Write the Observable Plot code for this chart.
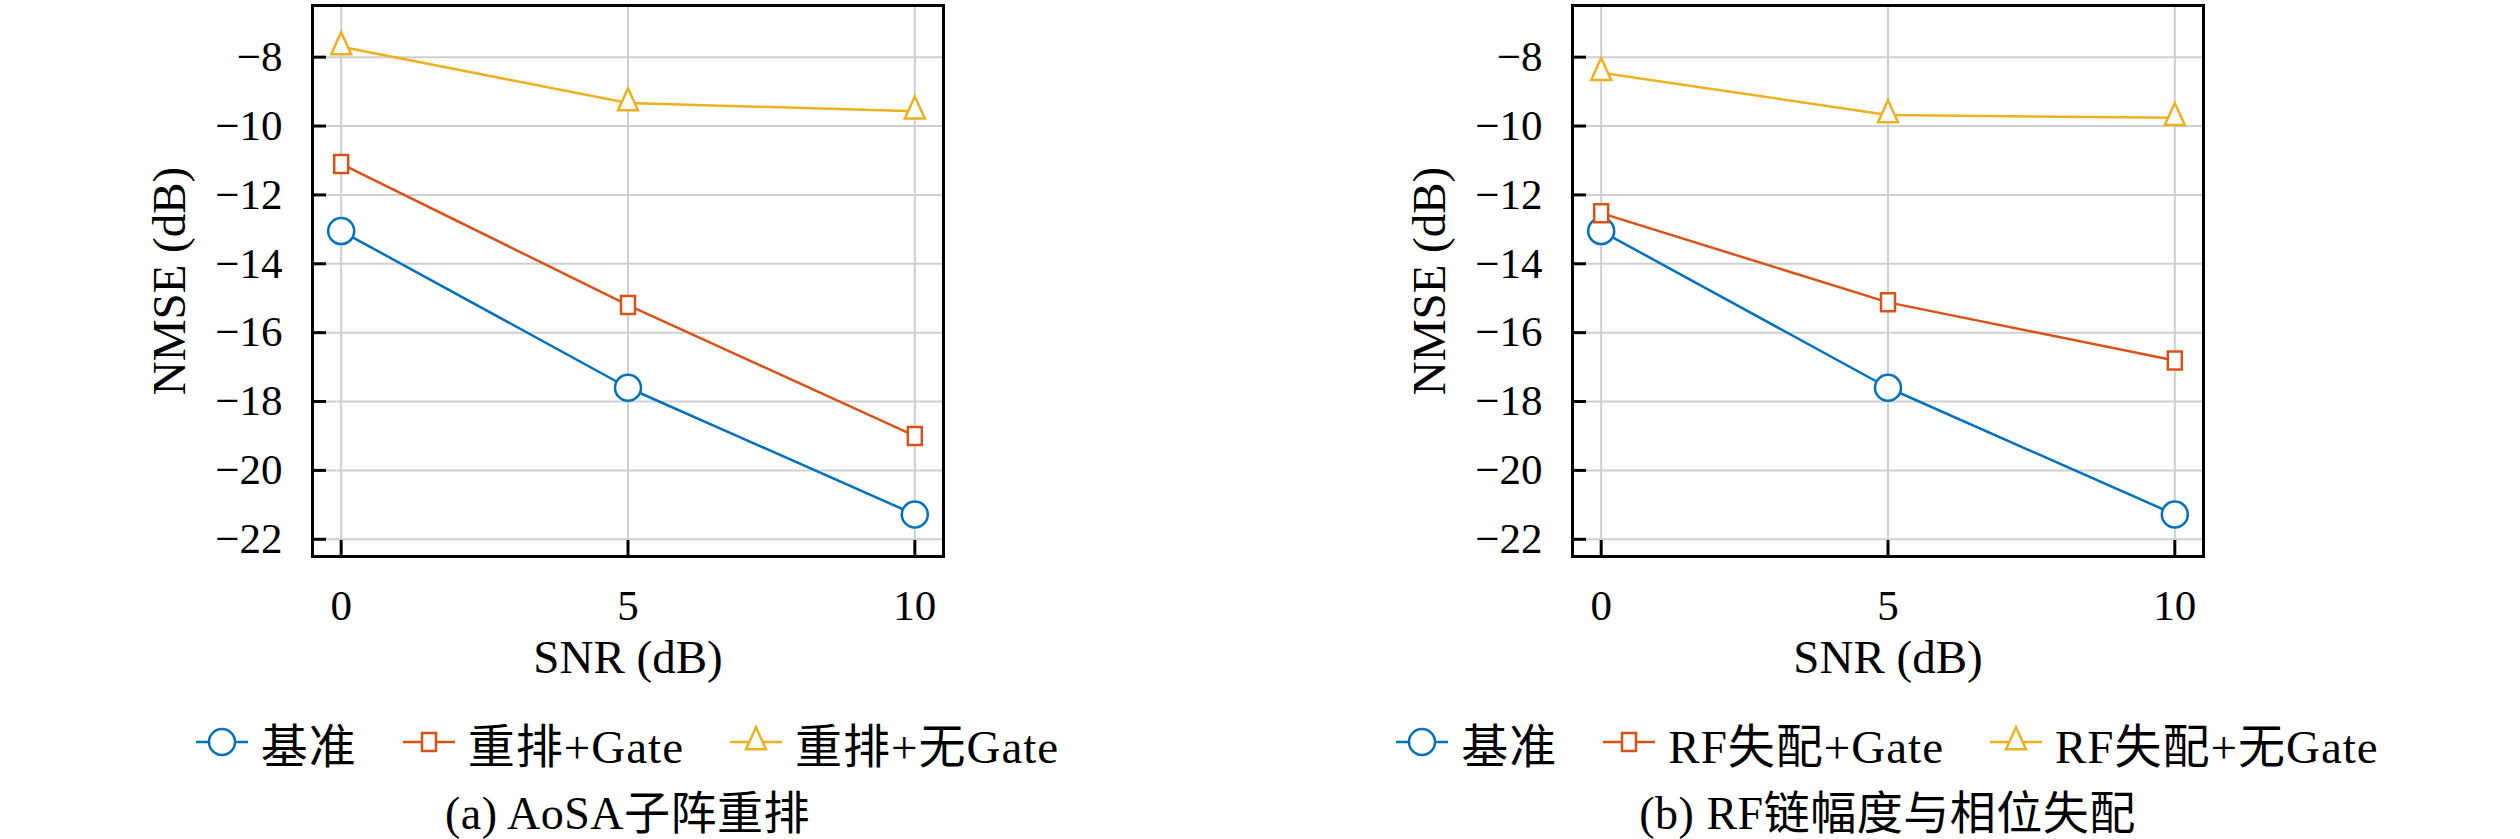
<!DOCTYPE html>
<html><head><meta charset="utf-8">
<script src="https://cdn.jsdelivr.net/npm/d3@7"></script>
<script src="https://cdn.jsdelivr.net/npm/@observablehq/plot@0.6"></script>
<style>
body{margin:0;background:#fff;width:2520px;height:839px;overflow:hidden;font-family:"Liberation Serif","Noto Sans CJK SC",serif;color:#000;}
#wrap{display:flex;}
.panel{width:1260px;}
.legend{height:84px;display:flex;align-items:center;justify-content:center;font-size:47px;letter-spacing:1px;padding-right:5px;}
.item{display:flex;align-items:center;margin:0 23px;}
.item svg{margin-right:13px;}
.caption{height:58px;line-height:60px;text-align:center;font-size:46px;letter-spacing:0.5px;padding-right:5px;}
</style></head>
<body><div id="wrap"></div>
<script>
// ---- data ----
const snr = [0, 5, 10];
const xTicks = [0, 5, 10];
const yTicks = [-22, -20, -18, -16, -14, -12, -10, -8];

const baseline = [-13.05, -17.6, -21.28];
const aGate = [-11.1, -15.2, -19.0];
const aNoGate = [-7.7, -9.33, -9.57];
const bGate = [-12.53, -15.12, -16.81];
const bNoGate = [-8.45, -9.68, -9.76];

const aLabels = ["基准", "重排+Gate", "重排+无Gate"];
const bLabels = ["基准", "RF失配+Gate", "RF失配+无Gate"];
const captions = ["(a) AoSA子阵重排", "(b) RF链幅度与相位失配"];

const colors = ["#0072BD", "#D95319", "#EDB120"];
const xLabel = "SNR (dB)";
const yLabel = "NMSE (dB)";

// ---- marker shapes ----
const rectSym = {draw(ctx){ctx.moveTo(-7,-9);ctx.lineTo(7,-9);ctx.lineTo(7,9);ctx.lineTo(-7,9);ctx.closePath();}};
const triSym = {draw(ctx){ctx.moveTo(0,-14.7);ctx.lineTo(10,7.3);ctx.lineTo(-10,7.3);ctx.closePath();}};
const symbols = ["circle", rectSym, triSym];

const W = 1260, H = 700, mL = 312, mR = 317, mT = 5, mB = 144;
const frameW = W - mL - mR, frameH = H - mT - mB;
const font = '"Liberation Serif","Noto Sans CJK SC",serif';

function makePanel(seriesVals, labels, caption) {
  const marks = [
    Plot.gridX(xTicks, {stroke: "#cfcfcf", strokeOpacity: 1, strokeWidth: 2}),
    Plot.gridY(yTicks, {stroke: "#cfcfcf", strokeOpacity: 1, strokeWidth: 2}),
    Plot.tickY(yTicks, {y: d => d, stroke: "black", strokeWidth: 3, insetRight: frameW - 14}),
    Plot.tickX(xTicks, {x: d => d, stroke: "black", strokeWidth: 3, insetTop: frameH - 16}),
    Plot.axisX({ticks: xTicks, tickSize: 0, tickPadding: 33, label: null, fontSize: 43}),
    Plot.axisY({ticks: yTicks, tickSize: 0, tickPadding: 30, label: null, fontSize: 43}),
    Plot.text([yLabel], {frameAnchor: "left", textAnchor: "middle", dx: -143, rotate: -90, fontSize: 47, fill: "black", ariaLabel: "ylabel"}),
    Plot.text([xLabel], {frameAnchor: "bottom", dy: 116, fontSize: 47, fill: "black", ariaLabel: "xlabel"})
  ];
  seriesVals.forEach((vals, i) => {
    const data = snr.map((s, j) => ({x: s, y: vals[j]}));
    marks.push(Plot.line(data, {x: "x", y: "y", stroke: colors[i], strokeWidth: 2.5}));
  });
  seriesVals.forEach((vals, i) => {
    const data = snr.map((s, j) => ({x: s, y: vals[j]}));
    marks.push(Plot.dot(data, {x: "x", y: "y", symbol: () => symbols[i], r: 13, stroke: colors[i], fill: "white", strokeWidth: 2.5}));
  });
  marks.push(Plot.frame({stroke: "black", strokeWidth: 3}));

  const chart = Plot.plot({
    width: W, height: H,
    marginLeft: mL, marginRight: mR, marginTop: mT, marginBottom: mB,
    x: {domain: [-0.5, 10.5], axis: null},
    y: {domain: [-22.5, -6.5], axis: null},
    symbol: {type: "identity"},
    style: {fontSize: "43px", fontFamily: font, color: "black", background: "white"},
    marks
  });
  chart.querySelectorAll('g[aria-label="xlabel"] text')
    .forEach(t => t.setAttribute("letter-spacing", "1.5"));

  const panel = document.createElement("div");
  panel.className = "panel";
  panel.appendChild(chart);

  const legend = document.createElement("div");
  legend.className = "legend";
  labels.forEach((lab, i) => {
    const item = document.createElement("div");
    item.className = "item";
    const sw = d3.create("svg").attr("width", 52).attr("height", 44);
    sw.append("line").attr("x1", 0).attr("x2", 52).attr("y1", 22).attr("y2", 22)
      .attr("stroke", colors[i]).attr("stroke-width", 2.5);
    let p;
    if (i === 0) p = d3.path(), p.arc(0, 0, 13, 0, 2 * Math.PI);
    else { p = d3.path(); symbols[i].draw(p); }
    sw.append("path").attr("d", p.toString()).attr("transform", "translate(26,22)")
      .attr("fill", "white").attr("stroke", colors[i]).attr("stroke-width", 2.5);
    item.appendChild(sw.node());
    const t = document.createElement("span");
    t.textContent = lab;
    item.appendChild(t);
    legend.appendChild(item);
  });
  panel.appendChild(legend);

  const cap = document.createElement("div");
  cap.className = "caption";
  cap.textContent = caption;
  panel.appendChild(cap);
  document.getElementById("wrap").appendChild(panel);
}

makePanel([baseline, aGate, aNoGate], aLabels, captions[0]);
makePanel([baseline, bGate, bNoGate], bLabels, captions[1]);
</script>
</body></html>
